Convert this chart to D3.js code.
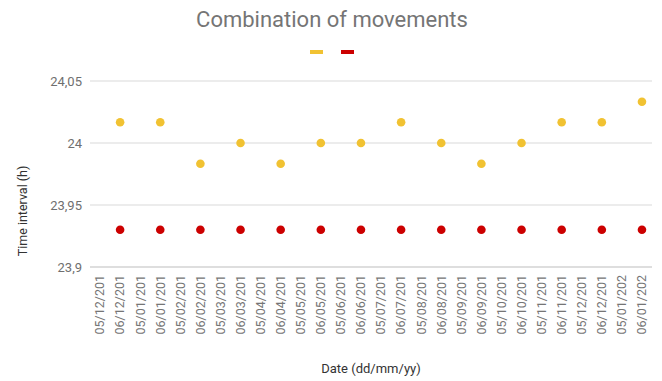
<!DOCTYPE html>
<html>
<head>
<meta charset="utf-8">
<script src="https://cdn.jsdelivr.net/npm/d3@7"></script>
<style>
  body { margin: 0; background: #fff; }
  text { font-family: Roboto, "Noto Sans", sans-serif; }
</style>
</head>
<body>
<div id="chart"></div>
<script>
// categories on the x axis (labels are truncated as in the source)
const categories = [
  "05/12/201", "06/12/201", "05/01/201", "06/01/201", "05/02/201", "06/02/201",
  "05/03/201", "06/03/201", "05/04/201", "06/04/201", "05/05/201", "06/05/201",
  "05/06/201", "06/06/201", "05/07/201", "06/07/201", "05/08/201", "06/08/201",
  "05/09/201", "06/09/201", "05/10/201", "06/10/201", "05/11/201", "06/11/201",
  "05/12/201", "06/12/201", "05/01/202", "06/01/202"
];

// points sit on every "06/.." category
const pointIndex = [1, 3, 5, 7, 9, 11, 13, 15, 17, 19, 21, 23, 25, 27];

const yellowValues = [24.0167, 24.0167, 23.9833, 24, 23.9833, 24, 24,
                      24.0167, 24, 23.9833, 24, 24.0167, 24.0167, 24.0333];
const redValues = [23.93, 23.93, 23.93, 23.93, 23.93, 23.93, 23.93,
                   23.93, 23.93, 23.93, 23.93, 23.93, 23.93, 23.93];

const yTicks = [23.9, 23.95, 24, 24.05];

const width = 662, height = 381;
const margin = {top: 81, right: 10, bottom: 114, left: 90};
const plotW = 652 - margin.left;
const plotH = 267 - margin.top;

const svg = d3.select("#chart").append("svg")
  .attr("width", width)
  .attr("height", height);

const g = svg.append("g")
  .attr("transform", "translate(" + margin.left + "," + margin.top + ")");

const x = d3.scaleBand()
  .domain(d3.range(categories.length))
  .range([0, plotW]);

const y = d3.scaleLinear()
  .domain([23.9, 24.05])
  .range([plotH, 0]);

// grid lines
g.selectAll(".grid")
  .data(yTicks)
  .enter().append("line")
  .attr("class", "grid")
  .attr("x1", 0)
  .attr("x2", plotW)
  .attr("y1", d => y(d))
  .attr("y2", d => y(d))
  .attr("stroke", d => d === 23.9 ? "#bdbdbd" : "#d9d9d9")
  .attr("stroke-width", 1);

// y axis labels
const fmt = d => String(+d.toFixed(2)).replace(".", ",");
g.selectAll(".ylab")
  .data(yTicks)
  .enter().append("text")
  .attr("class", "ylab")
  .attr("x", -8)
  .attr("y", d => y(d))
  .attr("dy", "0.35em")
  .attr("text-anchor", "end")
  .attr("font-size", 13)
  .attr("fill", "#6f6f6f")
  .text(fmt);

// x axis labels
g.selectAll(".xlab")
  .data(categories)
  .enter().append("text")
  .attr("class", "xlab")
  .attr("transform", (d, i) => "translate(" + (x(i) + x.bandwidth() / 2) + "," + (plotH + 8) + ") rotate(-90)")
  .attr("dy", "0.35em")
  .attr("text-anchor", "end")
  .attr("font-size", 12.5)
  .attr("fill", "#757575")
  .text(d => d);

// series
function drawSeries(values, color) {
  g.append("g").selectAll("circle")
    .data(values)
    .enter().append("circle")
    .attr("cx", (d, i) => x(pointIndex[i]) + x.bandwidth() / 2)
    .attr("cy", d => y(d))
    .attr("r", 4.3)
    .attr("fill", color);
}
drawSeries(yellowValues, "#f1c232");
drawSeries(redValues, "#cc0000");

// title
svg.append("text")
  .attr("x", 332)
  .attr("y", 27)
  .attr("text-anchor", "middle")
  .attr("font-size", 22)
  .attr("fill", "#757575")
  .text("Combination of movements");

// legend
svg.append("rect").attr("x", 310).attr("y", 50).attr("width", 13).attr("height", 4).attr("fill", "#f1c232");
svg.append("rect").attr("x", 341).attr("y", 50).attr("width", 13).attr("height", 4).attr("fill", "#cc0000");

// axis titles
svg.append("text")
  .attr("x", 371)
  .attr("y", 373)
  .attr("text-anchor", "middle")
  .attr("font-size", 13)
  .attr("fill", "#333")
  .text("Date (dd/mm/yy)");

svg.append("text")
  .attr("transform", "translate(27,211) rotate(-90)")
  .attr("text-anchor", "middle")
  .attr("font-size", 12.5)
  .attr("fill", "#333")
  .text("Time interval (h)");
</script>
</body>
</html>
